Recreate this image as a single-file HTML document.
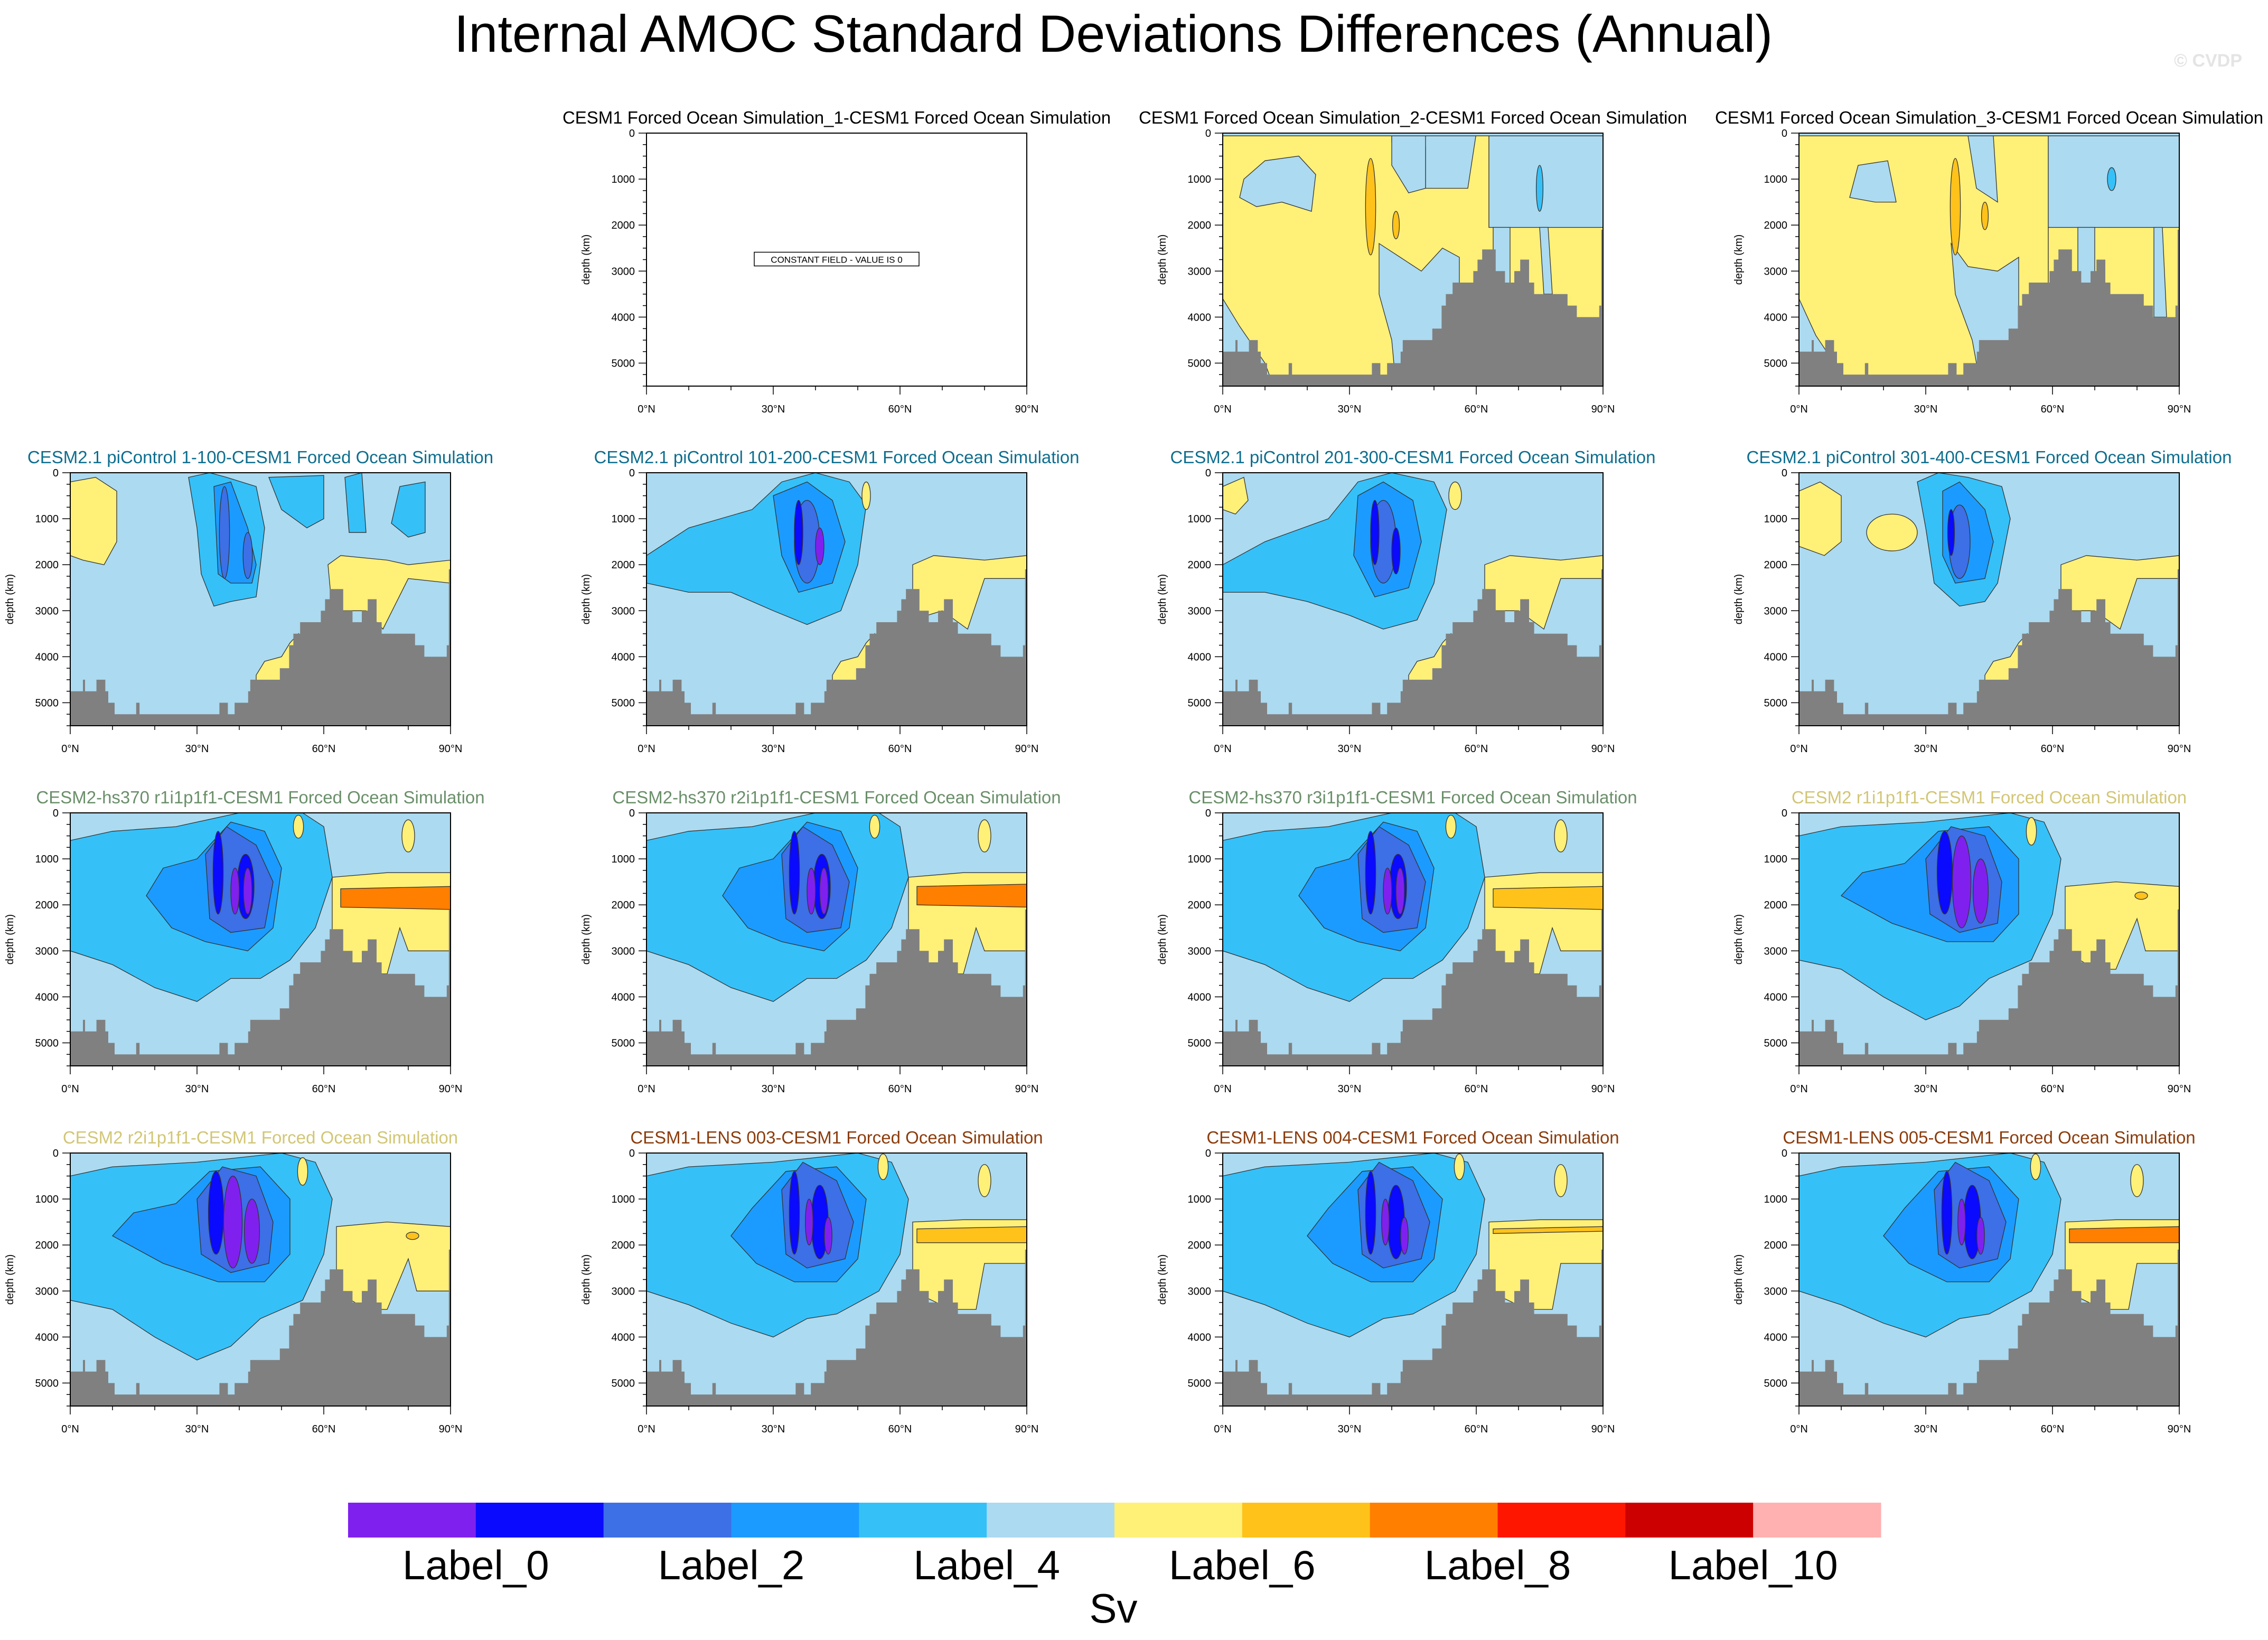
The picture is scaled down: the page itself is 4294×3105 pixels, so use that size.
<!DOCTYPE html>
<html><head><meta charset="utf-8">
<style>
html,body{margin:0;padding:0;background:#fff;}
svg{display:block;font-family:"Liberation Sans",sans-serif;}
</style></head>
<body>
<svg id="fig" width="4294" height="3105" viewBox="0 0 4294 3105" xmlns="http://www.w3.org/2000/svg">
<text x="2108" y="98" font-size="99" text-anchor="middle" fill="#000">Internal AMOC Standard Deviations Differences (Annual)</text>
<text x="4245" y="126" font-size="34" font-weight="bold" text-anchor="end" fill="#e4e4e4">© CVDP</text>
<g id="panels"></g>
<g id="cbar"></g>
</svg>
<script>
// ---- data ----
const levelColors = ["#8020ef","#0a0aff","#3d6fe6","#1b9bff","#36c0f8","#acdaf0","#fff078","#ffc21a","#ff7f00","#ff1600","#cc0000","#ffb0b0"];
const levelLabels = ["Label_0","Label_2","Label_4","Label_6","Label_8","Label_10"];
const bathyEdges = [0,3,3.5,6.2,8.3,9,10.5,15.6,16.4,35.3,37.3,38.9,42.1,42.6,49.6,51.8,52.8,54.4,59.3,60.3,61.4,64.6,66.8,69,70.4,72.5,73.7,81.6,83.8,89.1,89.6,90];
const bathyDepth = [4750,4500,4750,4500,4750,5000,5250,5000,5250,5000,5250,5000,4750,4500,4250,3750,3500,3250,3000,2750,2530,3000,3250,3000,2750,3250,3500,3750,4000,3750,2100];
const yTicks = [0,1000,2000,3000,4000,5000];
const xTicks = [0,30,60,90];
const depthMax = 5500;

const featForced2 = [
 ['p',6,[0,0,40,0,40,200,48,300,48,1200,58,1200,60,0,63,0,63,2050,90,2050,90,5500,0,5500]],
 ['p',5,[0,0,90,0,90,60,0,60]],
 ['p',5,[40,60,48,60,48,1200,44,1300,40,700]],
 ['p',5,[63,60,90,60,90,2050,63,2050]],
 ['p',5,[5,1000,10,600,18,500,22,900,21,1700,14,1500,8,1600,4,1400]],
 ['p',5,[37,2400,42,2700,47,3000,52,2500,56,2700,56,5500,41,5500,40,4500,37,3500]],
 ['p',5,[0,3600,4,4200,10,5000,12,5500,0,5500]],
 ['p',5,[64,2050,68,2050,68,3300,64,3300]],
 ['p',5,[75,2050,77,2050,78,3500,76,3500]],
 ['e',7,35,1600,1.2,1050],
 ['e',7,41,2000,0.8,300],
 ['e',4,75,1200,0.8,500]
];
const featForced3 = [
 ['p',6,[0,0,59,0,59,5500,0,5500]],
 ['p',6,[59,2050,90,2050,90,5500,59,5500]],
 ['p',5,[0,0,90,0,90,60,0,60]],
 ['p',5,[40,60,46,60,47,1500,42,1200]],
 ['p',5,[59,60,90,60,90,2050,59,2050]],
 ['p',5,[14,700,21,600,23,1500,18,1500,12,1400]],
 ['p',5,[36,2400,40,2900,47,3000,52,2700,52,5500,43,5500,41,4500,37,3500]],
 ['p',5,[0,3600,4,4400,12,5500,0,5500]],
 ['p',5,[66,2050,70,2050,70,3300,66,3300]],
 ['p',5,[84,2050,86,2050,87,4000,84,4000]],
 ['e',7,37,1600,1.2,1050],
 ['e',7,44,1800,0.8,300],
 ['e',4,74,1000,1,250]
];
const slopeYellow = ['p',6,[44,4400,46,4100,50,4000,52,3700,54,3500,54,4600,44,4600]];
const featPi1 = [
 ['p',6,[0,200,6,100,11,400,11,1500,8,2000,3,1900,0,1800]],
 ['p',4,[28,100,33,0,37,100,44,300,46,1200,45,2000,44,2700,38,2800,34,2900,31,2200,30,1200]],
 ['p',4,[47,100,60,60,60,1000,56,1200,50,800]],
 ['p',4,[65,100,69,0,70,1300,66,1300]],
 ['p',4,[78,300,84,200,84,1300,80,1400,76,1100]],
 ['p',3,[34,300,38,200,42,1200,44,2000,43,2400,38,2400,35,2200]],
 ['e',2,36.5,1300,1.2,1000],
 ['e',2,42,1800,1.1,500],
 ['p',6,[61,2000,64,1800,75,1900,80,2000,90,1900,90,2400,80,2300,74,3400,70,3000,62,3000]],
 slopeYellow
];
const featPi2 = [
 ['p',4,[0,1800,10,1200,25,800,32,200,40,0,48,200,52,700,50,2000,46,3000,38,3300,30,3000,20,2600,10,2600,0,2400]],
 ['p',3,[30,500,38,200,44,600,47,1500,44,2400,36,2600,32,1800]],
 ['e',2,38,1500,3,900],
 ['e',1,36,1300,1,700],
 ['e',0,41,1600,1,400],
 ['p',6,[63,2000,68,1800,80,1900,90,1800,90,2300,80,2300,76,3400,70,3000,63,3200]],
 ['e',6,52,500,1,300],
 slopeYellow
];
const featPi3 = [
 ['p',6,[0,300,5,100,6,600,3,900,0,800]],
 ['p',4,[0,2000,10,1500,25,1000,32,200,40,0,50,200,53,800,50,2400,46,3200,38,3400,30,3100,20,2800,10,2600,0,2600]],
 ['p',3,[32,500,38,200,45,600,47,1500,44,2500,36,2700,31,1800]],
 ['e',2,38,1500,3,900],
 ['e',1,36,1300,1,700],
 ['e',1,41,1700,1,500],
 ['p',6,[62,2000,68,1800,80,1900,90,1800,90,2300,80,2300,76,3400,70,3000,62,3000]],
 ['e',6,55,500,1.5,300],
 slopeYellow
];
const featPi4 = [
 ['p',6,[0,400,5,200,10,500,10,1500,6,1800,0,1600]],
 ['p',4,[28,200,33,0,40,100,48,300,50,1000,47,2400,44,2800,38,2900,32,2400,30,1200]],
 ['p',3,[34,400,38,200,44,800,46,1500,44,2300,37,2400,34,1800]],
 ['e',2,38,1500,2.5,800],
 ['e',1,36,1300,0.8,500],
 ['e',6,22,1300,6,400],
 ['p',6,[62,2000,68,1800,80,1900,90,1800,90,2300,80,2300,76,3400,70,3000,62,3000]],
 slopeYellow
];
function featHs(bandLv, bandD){
 return [
 ['p',4,[0,600,10,400,25,300,40,0,55,0,60,300,62,1400,58,2500,52,3200,45,3600,38,3600,30,4100,20,3800,10,3300,0,3000]],
 ['p',3,[18,1800,22,1200,30,1000,38,200,46,400,50,1200,48,2500,42,3000,32,2800,24,2500]],
 ['p',2,[32,900,37,300,44,700,48,1500,46,2500,38,2600,33,2300]],
 ['e',1,35,1300,1.2,900],
 ['e',1,41.5,1600,2,700],
 ['e',0,39,1700,1,500],
 ['e',0,42,1700,1,500],
 ['p',6,[62,1400,75,1300,90,1300,90,3000,80,3000,78,2500,75,3500,70,3500,62,3000]],
 ['p',bandLv,[64,bandD-200,90,bandD-250,90,bandD+250,64,bandD+200]],
 ['e',6,54,300,1.2,250],
 ['e',6,80,500,1.5,350]
 ];
}
function featCesm2(){
 return [
 ['p',4,[0,500,10,300,30,200,50,0,58,200,62,1000,60,2200,55,3200,45,3600,38,4200,30,4500,20,4000,10,3400,0,3200]],
 ['p',3,[10,1800,15,1300,25,1100,33,400,45,300,52,1000,52,2200,46,2800,35,2800,22,2400]],
 ['p',2,[30,1000,36,300,44,500,48,1500,47,2400,38,2600,31,2200]],
 ['e',1,34.5,1300,1.8,900],
 ['e',0,38.5,1500,2.2,1000],
 ['e',0,43,1700,1.8,700],
 ['p',6,[63,1600,75,1500,90,1600,90,3000,82,3000,80,2300,75,3400,70,3400,63,3000]],
 ['e',7,81,1800,1.5,80],
 ['e',6,55,400,1.2,300]
 ];
}
function featLens(bandLv, thin){
 return [
 ['p',4,[0,500,10,300,30,200,50,0,58,200,62,1000,60,2200,55,3000,45,3500,38,3600,30,4000,20,3700,10,3300,0,3000]],
 ['p',3,[20,1800,25,1200,33,400,45,300,52,1000,50,2300,45,2800,35,2800,26,2400]],
 ['p',2,[32,800,37,200,45,600,49,1500,47,2300,38,2500,33,2200]],
 ['e',1,35,1300,1.2,900],
 ['e',1,41,1500,2,800],
 ['e',0,38.5,1500,0.9,500],
 ['e',0,43,1800,0.9,400],
 ['p',6,[63,1500,75,1450,90,1450,90,2400,80,2400,78,3400,72,3400,63,3000]],
 ['p',bandLv,[64,1650,90,1600,90,(thin?1700:1950),64,(thin?1750:1950)]],
 ['e',6,56,300,1.2,280],
 ['e',6,80,600,1.5,350]
 ];
}
const panels = [
 {col:1,row:0,title:"CESM1 Forced Ocean Simulation_1-CESM1 Forced Ocean Simulation",color:"#000",constant:true,feat:[]},
 {col:2,row:0,title:"CESM1 Forced Ocean Simulation_2-CESM1 Forced Ocean Simulation",color:"#000",feat:featForced2},
 {col:3,row:0,title:"CESM1 Forced Ocean Simulation_3-CESM1 Forced Ocean Simulation",color:"#000",feat:featForced3},
 {col:0,row:1,title:"CESM2.1 piControl 1-100-CESM1 Forced Ocean Simulation",color:"#0e6e8e",feat:featPi1},
 {col:1,row:1,title:"CESM2.1 piControl 101-200-CESM1 Forced Ocean Simulation",color:"#0e6e8e",feat:featPi2},
 {col:2,row:1,title:"CESM2.1 piControl 201-300-CESM1 Forced Ocean Simulation",color:"#0e6e8e",feat:featPi3},
 {col:3,row:1,title:"CESM2.1 piControl 301-400-CESM1 Forced Ocean Simulation",color:"#0e6e8e",feat:featPi4},
 {col:0,row:2,title:"CESM2-hs370 r1i1p1f1-CESM1 Forced Ocean Simulation",color:"#6a8f6a",feat:featHs(8,1850)},
 {col:1,row:2,title:"CESM2-hs370 r2i1p1f1-CESM1 Forced Ocean Simulation",color:"#6a8f6a",feat:featHs(8,1800)},
 {col:2,row:2,title:"CESM2-hs370 r3i1p1f1-CESM1 Forced Ocean Simulation",color:"#6a8f6a",feat:featHs(7,1850)},
 {col:3,row:2,title:"CESM2 r1i1p1f1-CESM1 Forced Ocean Simulation",color:"#d2c676",feat:featCesm2()},
 {col:0,row:3,title:"CESM2 r2i1p1f1-CESM1 Forced Ocean Simulation",color:"#d2c676",feat:featCesm2()},
 {col:1,row:3,title:"CESM1-LENS 003-CESM1 Forced Ocean Simulation",color:"#8c3c0c",feat:featLens(7,false)},
 {col:2,row:3,title:"CESM1-LENS 004-CESM1 Forced Ocean Simulation",color:"#8c3c0c",feat:featLens(7,true)},
 {col:3,row:3,title:"CESM1-LENS 005-CESM1 Forced Ocean Simulation",color:"#8c3c0c",feat:featLens(8,false)}
];
const colLeft = [133,1224,2315,3406];
const rowTop = [252,895,1539,2183];
const PW = 720, PH = 479;

const NS = "http://www.w3.org/2000/svg";
function mk(tag, attrs, parent){
 const el = document.createElementNS(NS, tag);
 for (const k in attrs) el.setAttribute(k, attrs[k]);
 parent.appendChild(el);
 return el;
}
const root = document.getElementById('panels');
panels.forEach((p, i) => {
 const x0 = colLeft[p.col], y0 = rowTop[p.row];
 const X = lat => x0 + lat/90*PW;
 const Y = d => y0 + d/depthMax*PH;
 const g = mk('g', {}, root);
 
 
 const t = mk('text', {x: x0+PW/2, y: y0-18, 'font-size': 33, 'text-anchor':'middle', fill: p.color}, g);
 t.textContent = p.title;
 
 
 const clipId = 'clip' + i;
 const cp = mk('clipPath', {id: clipId}, g);
 mk('rect', {x:x0, y:y0, width:PW, height:PH}, cp);
 const plot = mk('g', {'clip-path': 'url(#' + clipId + ')'}, g);
 
 
 if (p.constant) {
  mk('rect', {x:x0, y:y0, width:PW, height:PH, fill:'#fff'}, plot);
  const bx = mk('rect', {x:x0+PW/2-156, y:y0+PH/2-14, width:312, height:26, fill:'#fff', stroke:'#000', 'stroke-width':1.5}, g);
  
  
  const ct = mk('text', {x:x0+PW/2, y:y0+PH/2+6, 'font-size':17, 'text-anchor':'middle', fill:'#000'}, g);
  ct.textContent = 'CONSTANT FIELD - VALUE IS 0';
  
  
 } else {
  mk('rect', {x:x0, y:y0, width:PW, height:PH, fill:levelColors[5]}, plot);
  p.feat.forEach(f => {
   let el;
   if (f[0] === 'p') {
    const pts = [];
    for (let k=0;k<f[2].length;k+=2) pts.push(X(f[2][k]).toFixed(1)+','+Y(f[2][k+1]).toFixed(1));
    el = mk('polygon', {points: pts.join(' '), fill: levelColors[f[1]], stroke:'#333', 'stroke-width':1.3}, plot);
   } else {
    el = mk('ellipse', {cx:X(f[2]), cy:Y(f[3]), rx:f[4]/90*PW, ry:f[5]/depthMax*PH, fill:levelColors[f[1]], stroke:'#333', 'stroke-width':1.3}, plot);
   }
   
   
  });
  const bp = [X(0)+','+Y(depthMax)];
  for (let k=0;k<bathyDepth.length;k++){
   bp.push(X(bathyEdges[k]).toFixed(1)+','+Y(bathyDepth[k]).toFixed(1));
   bp.push(X(bathyEdges[k+1]).toFixed(1)+','+Y(bathyDepth[k]).toFixed(1));
  }
  bp.push(X(90)+','+Y(depthMax));
  const bathy = mk('polygon', {points: bp.join(' '), fill:'#808080'}, plot);
  
  
 }
 const frame = mk('rect', {x:x0, y:y0, width:PW, height:PH, fill:'none', stroke:'#000', 'stroke-width':2}, g);
 
 
 const ya = mk('g', {}, g);
 
 
 for (let d=0; d<=depthMax; d+=250){
  const major = d % 1000 === 0;
  mk('line', {x1:x0-(major?15:7), x2:x0, y1:Y(d), y2:Y(d), stroke:'#000', 'stroke-width':1.5}, ya);
 }
 yTicks.forEach(v => {
  const tl = mk('text', {x:x0-22, y:Y(v)+7, 'font-size':20, 'text-anchor':'end', fill:'#000'}, ya);
  tl.textContent = v;
  
  
 });
 const yt = mk('text', {x:x0-108, y:Y(2750), 'font-size':20, 'text-anchor':'middle', fill:'#000', transform:'rotate(-90 '+(x0-108)+' '+Y(2750)+')'}, ya);
 yt.textContent = 'depth (km)';
 
 
 const xa = mk('g', {}, g);
 
 
 for (let lat=0; lat<=90; lat+=10){
  const major = lat % 30 === 0;
  mk('line', {x1:X(lat), x2:X(lat), y1:y0+PH, y2:y0+PH+(major?16:8), stroke:'#000', 'stroke-width':1.5}, xa);
 }
 xTicks.forEach(v => {
  const tl = mk('text', {x:X(v), y:y0+PH+50, 'font-size':20, 'text-anchor':'middle', fill:'#000'}, xa);
  tl.textContent = v + '°N';
  
  
 });
});
const cb = document.getElementById('cbar');


const cbX = 659, cbW = 2902, cbY = 2845, cbH = 66;
const bw = cbW / levelColors.length;
levelColors.forEach((c, k) => {
 const r = mk('rect', {x:cbX + k*bw, y:cbY, width:bw+0.5, height:cbH, fill:c}, cb);
 
 
});
levelLabels.forEach((s, k) => {
 const tl = mk('text', {x:cbX + (2*k+1)*bw, y:2990, 'font-size':78, 'text-anchor':'middle', fill:'#000'}, cb);
 tl.textContent = s;
 
 
});
const sv = mk('text', {x:2108, y:3072, 'font-size':78, 'text-anchor':'middle', fill:'#000'}, cb);
sv.textContent = 'Sv';


</script>
</body></html>
